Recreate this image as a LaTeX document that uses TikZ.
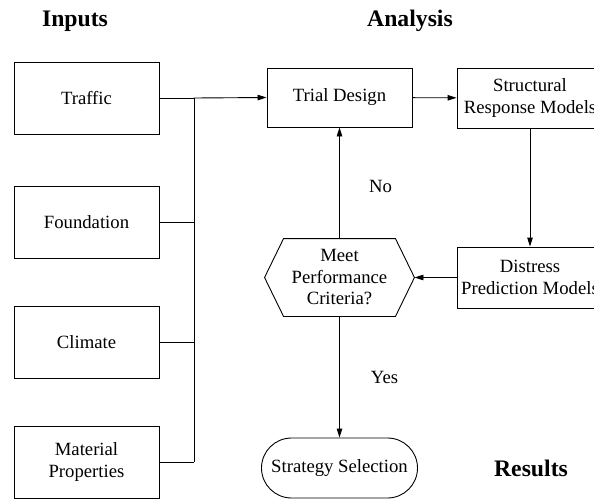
\documentclass[tikz,border=0pt]{standalone}
\usepackage{fontspec}
\setmainfont{Liberation Serif}
\usetikzlibrary{arrows.meta,shapes.misc}

\begin{document}
\begin{tikzpicture}[x=1pt,y=-1pt,line width=0.9pt,
    box/.style={draw, rectangle, minimum width=145pt, align=center, inner sep=0pt,
        font=\fontsize{18.7}{21.5}\selectfont},
    link/.style={-{Triangle[length=9pt,width=5.5pt]}},
    title/.style={anchor=base, font=\fontsize{23.7}{28}\selectfont\bfseries},
    lbl/.style={font=\fontsize{18.7}{21.5}\selectfont}]
\useasboundingbox (0,0) rectangle (594,498);

% Column headings
\node[title] (hin) at (75,26) {Inputs};
\node[title] (han) at (410,26) {Analysis};
\node[title] (hres) at (531,476) {Results};

% Inputs
\foreach \name/\y/\txt in {traffic/98/Traffic, found/222/Foundation, climate/342/Climate, mat/462/{Material\\Properties}}
    \node[box, minimum height=72pt] (\name) at (86.5,\y) {\txt};

% Collecting line
\coordinate (bustop) at (194,98);
\coordinate (busbot) at (194,462);
\draw (bustop) -- (busbot);
\foreach \name in {traffic, found, climate, mat}
    \draw (\name.east) -- (\name.east -| bustop);

% Analysis loop
\node[box, minimum height=59pt] (trial) at (339.5,97.5) {Trial Design};
\node[box, minimum width=146pt, minimum height=60pt] (struct) at (530,98) {Structural\\Response Models};
\node[box, minimum width=146pt, minimum height=61pt] (distress) at (530,277.5) {Distress\\Prediction Models};
\node[box, draw=none, minimum width=149pt, minimum height=77pt] (meet) at (339.5,277.5) {Meet\\Performance\\Criteria?};
\draw (meet.west) -- ([xshift=19pt]meet.north west) -- ([xshift=-19pt]meet.north east) -- (meet.east)
    -- ([xshift=-19pt]meet.south east) -- ([xshift=19pt]meet.south west) -- cycle;
\node[box, rounded rectangle, minimum width=156pt, minimum height=60pt] (strat) at (339.5,468) {Strategy Selection};

% Connections
\draw[link] (bustop) -- (trial.west);
\draw[link] (trial) -- (struct);
\draw[link] (struct) -- (distress);
\draw[link] (distress) -- (meet);
\draw[link] (meet) -- (trial) node[lbl, midway, xshift=41pt, yshift=-3pt] {No};
\draw[link] (meet) -- (strat) node[lbl, midway, xshift=45pt] {Yes};
\end{tikzpicture}
\end{document}
